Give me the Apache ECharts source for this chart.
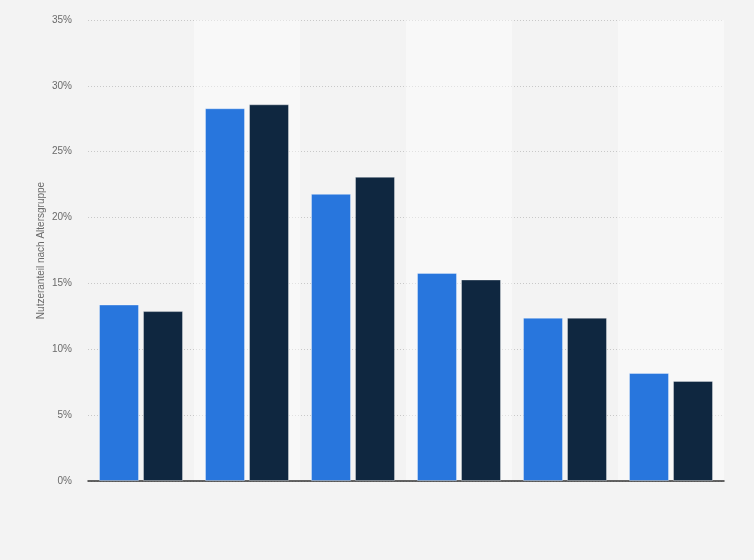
<!DOCTYPE html>
<html>
<head>
<meta charset="utf-8">
<script src="https://cdn.jsdelivr.net/npm/echarts@6/dist/echarts.min.js"></script>
<style>
html,body{margin:0;padding:0;background:#f3f3f3;}
#c{width:754px;height:560px;}
</style>
</head>
<body>
<div id="c"></div>
<script>
const categories = ['1', '2', '3', '4', '5', '6'];
const seriesA = [13.4, 28.3, 21.8, 15.8, 12.4, 8.2];
const seriesB = [12.9, 28.6, 23.1, 15.3, 12.4, 7.6];
const yTicks = [0, 5, 10, 15, 20, 25, 30, 35];

const chart = echarts.init(document.getElementById('c'), null, {renderer: 'canvas'});
chart.setOption({
  backgroundColor: '#f3f3f3',
  animation: false,
  grid: {left: 88, right: 30, top: 20, bottom: 79},
  xAxis: {
    type: 'category',
    data: categories,
    axisLine: {show: true, lineStyle: {color: '#333', width: 1.5}},
    axisTick: {show: false},
    axisLabel: {show: false},
    splitArea: {show: true, areaStyle: {color: ['rgba(255,255,255,0)', 'rgba(255,255,255,0.45)']}}
  },
  yAxis: {
    type: 'value',
    min: yTicks[0],
    max: yTicks[yTicks.length - 1],
    interval: 5,
    name: 'Nutzeranteil nach Altersgruppe',
    nameLocation: 'middle',
    nameGap: 42,
    nameMoveOverlap: false,
    nameTextStyle: {color: '#6a6a6a', fontSize: 10, fontFamily: 'Arial, Liberation Sans, sans-serif'},
    axisLine: {show: false},
    axisTick: {show: false},
    axisLabel: {color: '#6a6a6a', fontSize: 10, margin: 16, fontFamily: 'Arial, Liberation Sans, sans-serif', formatter: v => v + '%'},
    splitLine: {show: true, lineStyle: {color: '#c8c8c8', type: [1, 2], width: 1}}
  },
  series: [
    {
      type: 'bar', data: seriesA, barWidth: 40, barGap: '10%',
      itemStyle: {color: '#2876dd', borderColor: 'rgba(255,255,255,0.35)', borderWidth: 1}
    },
    {
      type: 'bar', data: seriesB, barWidth: 40, barGap: '10%',
      itemStyle: {color: '#0f2740', borderColor: 'rgba(255,255,255,0.35)', borderWidth: 1}
    }
  ]
});
</script>
</body>
</html>
